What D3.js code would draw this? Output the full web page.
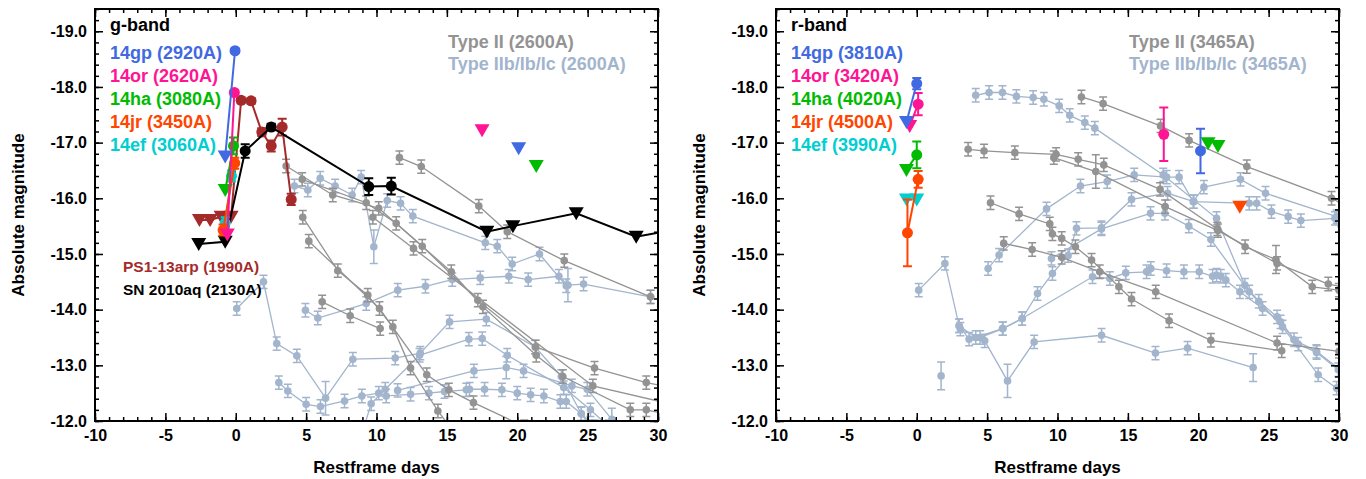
<!DOCTYPE html>
<html>
<head>
<meta charset="utf-8">
<script src="https://cdn.jsdelivr.net/npm/d3@7/dist/d3.min.js"></script>
<style>
body { margin: 0; background: #fff; }
text { font-family: "Liberation Sans", Arial, sans-serif; font-weight: bold; }
</style>
</head>
<body>
<script>
// ---------------- data ----------------
const xTicks = [-10, -5, 0, 5, 10, 15, 20, 25, 30];
const yTicks = [-19, -18, -17, -16, -15, -14, -13, -12];

// point = [restframe day, abs mag, error, isUpperLimit]
// g-band, comparison Type II (grey)
const gTypeII = [
  [[11.63,-16.73],[13.18,-16.57],[17.27,-15.86],[19.29,-15.40],[23.34,-14.88],[29.47,-14.23]],
  [[3.58,-16.58],[6.89,-16.06],[10.16,-15.82],[13.25,-15.14],[17.2,-14.17],[21.3,-13.33],[25.49,-12.95],[29.17,-12.69],[31,-12.6]],
  [[4.72,-16.34],[9.27,-15.92],[11.4,-15.55],[15.31,-14.68],[17.56,-14.05],[21.35,-13.18],[23.24,-12.8],[28.03,-12.2],[29.17,-12.2],[31,-12.1]],
  [[4.76,-15.66],[7.25,-14.7],[9.38,-14.26],[11.16,-13.69],[12.42,-12.95],[14.36,-12.18],[15.5,-11.8]],
  [[5.19,-15.23],[10.21,-14.02],[13.57,-12.83],[15.14,-12.56],[16.89,-12.33],[20.5,-11.9]],
  [[6.14,-14.14],[8.13,-13.89],[10.26,-13.66]],
  [[9.74,-15.66],[12.63,-15.1],[25.37,-12.63],[31,-12.3]]
];
// g-band, comparison Type IIb/Ib/Ic (light blue)
const gTypeIb = [
  [[4.17,-16.22],[5.12,-16.15],[6.0,-16.36],[7.06,-16.22],[8.27,-16.06],[8.91,-16.38],[9.81,-15.13,0.3],[10.76,-15.96],[11.71,-15.91],[12.58,-15.68],[17.73,-15.2],[18.58,-15.14],[19.64,-14.82],[21.58,-15.0],[23.48,-14.43]],
  [[4.95,-13.99],[5.83,-13.85],[9.27,-14.11],[11.51,-14.35],[13.48,-14.42],[15.38,-14.54],[17.37,-14.57],[19.4,-14.6],[20.78,-14.54],[22.96,-14.6],[23.6,-14.44,0.3],[24.71,-14.46],[29.47,-14.23]],
  [[0.07,-14.02],[1.97,-14.5],[2.91,-13.39],[4.34,-13.17],[6.38,-12.41,0.3],[8.32,-13.11],[11.33,-13.13],[13.11,-13.22],[15.19,-13.78],[17.8,-13.83],[21.28,-13.33],[23.13,-12.8],[24.55,-12.13],[25.2,-11.9]],
  [[3.06,-12.69],[3.7,-12.54],[5.0,-12.3],[6.02,-12.26],[7.73,-12.36],[8.96,-12.45],[10.16,-12.5],[10.69,-12.45],[12.42,-12.48],[13.72,-12.5],[14.83,-12.53],[16.38,-12.56],[16.61,-12.57],[17.68,-12.57],[18.91,-12.56],[20.0,-12.5],[20.95,-12.47],[21.89,-12.45],[23.06,-12.35],[23.48,-12.35],[24.55,-12.13],[25.5,-11.9]],
  [[9.0,-11.8],[9.62,-12.31],[10.62,-12.57],[13.06,-13.18],[16.56,-13.47],[17.51,-13.48],[19.29,-13.18],[23.3,-12.6],[25.2,-12.2],[26.5,-11.9]],
  [[11.5,-12.55],[16.92,-12.9],[19.22,-12.96,0.2],[20.45,-12.9],[23.88,-12.63],[24.98,-12.57],[26.72,-12.03,0.2]]
];
// g-band, the new events
const g14gp = [[-0.75,-16.75,0,1],[-0.05,-18.65,0.04,0]];
const g14gpLate = [[20.1,-16.9,0,1]];
const g14or = [[-0.6,-15.35,0,1],[-0.1,-17.9,0.04,0]];
const g14orLate = [[17.5,-17.22,0,1]];
const g14ha = [[-0.75,-16.15,0,1],[-0.16,-16.94,0.15,0]];
const g14haLate = [[21.35,-16.58,0,1]];
const g14jr = [[-0.9,-15.43,0.1,0],[-0.07,-16.63,0.1,0]];
const g14ef = [[-0.75,-15.56,0.1,0],[-0.3,-16.4,0.1,0]];
const ps13arp = [[-2.58,-15.61,0,1],[-1.82,-15.61,0,1],[-1.04,-15.67,0,1],[-0.33,-15.67,0,1],[0.38,-17.76,0.05,0],[1.09,-17.75,0.05,0],[1.85,-17.19,0.07,0],[2.52,-16.94,0.1,0],[3.3,-17.28,0.15,0],[3.94,-15.98,0.1,0]];
const sn2010aq = [[-2.63,-15.18,0,1],[-0.75,-15.22,0,1],[0.67,-16.85,0.12,0],[2.52,-17.28,0.06,0],[9.45,-16.21,0.15,0],[11.05,-16.22,0.15,0],[17.84,-15.40,0,1],[19.69,-15.5,0,1],[24.19,-15.73,0,1],[28.45,-15.31,0,1],[31.5,-15.45,0,1]];

// r-band, comparison Type II (grey)
const rTypeII = [
  [[11.7,-17.82],[13.24,-17.7],[17.32,-17.3],[19.35,-17.04],[23.45,-16.57],[29.47,-16.0],[31,-15.8]],
  [[3.65,-16.88],[4.78,-16.85],[6.97,-16.82],[9.9,-16.79],[11.47,-16.7],[13.29,-16.6],[17.29,-16.16],[21.35,-15.45],[23.33,-15.13],[25.52,-14.9,0.25],[28.1,-14.41],[30,-14.35]],
  [[9.74,-16.73],[12.72,-16.48,0.3],[17.65,-15.85],[21.4,-15.42],[25.6,-14.83],[29.24,-14.46],[30.5,-14.4]],
  [[5.24,-15.92],[7.27,-15.72],[9.45,-15.54],[9.64,-15.36],[10.3,-15.28],[11.27,-15.13],[12.42,-14.89],[14.36,-14.41],[15.26,-14.19],[17.93,-13.8],[20.9,-13.45],[25.93,-13.26]],
  [[6.18,-15.19],[8.2,-15.08],[10.3,-14.94],[13.0,-14.68],[16.98,-14.32],[25.6,-13.4],[30,-13.25]]
];
// r-band, comparison Type IIb/Ib/Ic (light blue)
const rTypeIb = [
  [[4.19,-17.85],[5.14,-17.9],[6.09,-17.9],[7.08,-17.83],[8.27,-17.81],[9.03,-17.78],[10.12,-17.66],[10.87,-17.49],[11.94,-17.36],[12.65,-17.26],[17.51,-16.42],[21.3,-15.64],[23.31,-14.44],[24.3,-14.15],[25.6,-13.87],[26.8,-13.46],[28.4,-13.25],[30.2,-12.9]],
  [[5.07,-14.74],[5.85,-14.98],[9.22,-15.81],[11.63,-16.22],[13.53,-16.3],[15.45,-16.42],[17.75,-16.38],[18.64,-16.38],[19.64,-15.94],[20.4,-16.2],[23.0,-16.34],[24.78,-16.09],[29.83,-15.67]],
  [[3.01,-13.71],[4.19,-13.5],[6.09,-13.66],[7.49,-13.84],[8.58,-14.29],[9.64,-14.65],[10.75,-14.97],[11.35,-15.46],[13.13,-15.47],[15.26,-15.98],[17.82,-16.09],[19.69,-15.94],[23.62,-15.91],[24.15,-15.91],[25.2,-15.76],[26.39,-15.67],[27.29,-15.6],[29.71,-15.64],[30.2,-15.3]],
  [[9.57,-14.92],[13.12,-15.45],[16.61,-15.73],[17.63,-15.73],[19.33,-15.5],[20.9,-15.26],[23.62,-14.32],[25.99,-13.69],[28.52,-12.83],[29.83,-12.59],[30.5,-12.4]],
  [[0.14,-14.35],[2.0,-14.83],[3.01,-13.71],[3.72,-13.47],[4.83,-13.44],[6.45,-12.72,0.3],[8.34,-13.42],[13.13,-13.54],[16.96,-13.22],[19.24,-13.31],[23.9,-12.96,0.25]],
  [[3.1,-13.65],[4.5,-13.5],[6.13,-13.66],[7.49,-13.84],[12.49,-14.59],[13.72,-14.56],[14.85,-14.66],[16.33,-14.68],[16.63,-14.74],[17.75,-14.7],[18.98,-14.68],[20.07,-14.68],[21.02,-14.6],[21.3,-14.62],[21.6,-14.6],[21.96,-14.53],[22.96,-14.32],[24.57,-14.02],[25.85,-13.78],[27.1,-13.38],[28.41,-13.23],[29.95,-12.92]],
  [[1.73,-12.81,0.25]]
];
// r-band, the new events
const r14gp = [[-0.73,-17.37,0,1],[0,-18.06,0.1,0]];
const r14gpLate = [[20.16,-16.85,0.4,0]];
const r14or = [[-0.5,-17.3,0,1],[0.1,-17.69,0.2,0]];
const r14orLate = [[17.55,-17.15,0.48,0]];
const r14ha = [[-0.73,-16.51,0,1],[0,-16.78,0.24,0]];
const r14haLate = [[20.7,-16.99,0,1],[21.4,-16.94,0,1]];
const r14jr = [[-0.66,-15.38,0.6,0],[0.1,-16.34,0.15,0]];
const r14jrLate = [[22.95,-15.85,0,1]];
const r14ef = [[-0.73,-15.98,0,1],[0,-15.98,0,1]];

// ---------------- colours ----------------
const cGrey = "#939393", cLight = "#a2b5cd";
const cBlue = "#4169e1", cPink = "#ff1493", cGreen = "#00bb00", cOrange = "#ff4500", cCyan = "#00ced1", cBrown = "#a52a2a";

const W = 1366, H = 479;
const svg = d3.select("body").append("svg").attr("width", W).attr("height", H);
const hyphen = f => (d => f(d).replace("\u2212", "-"));

function drawPanel(left, cfg) {
  const right = left + 563, top = 9, bottom = 421;
  const x = d3.scaleLinear().domain([-10, 30]).range([left, right]);
  const y = d3.scaleLinear().domain([-12, -19.4]).range([bottom, top]);
  const line = d3.line().x(d => x(d[0])).y(d => y(d[1]));

  const clipId = "clip" + left;
  svg.append("clipPath").attr("id", clipId)
    .append("rect").attr("x", left).attr("y", top).attr("width", right - left).attr("height", bottom - top);
  const plot = svg.append("g").attr("clip-path", `url(#${clipId})`);

  function family(list, color) {
    list.forEach(s => {
      plot.append("path").datum(s).attr("d", line)
        .attr("fill", "none").attr("stroke", color).attr("stroke-width", 1.3);
      s.forEach(d => {
        const e = d[2] !== undefined ? d[2] : 0.12;
        const cx = x(d[0]), y0 = y(d[1] - e), y1 = y(d[1] + e);
        plot.append("path")
          .attr("d", `M${cx},${y0}V${y1}M${cx-4},${y0}H${cx+4}M${cx-4},${y1}H${cx+4}`)
          .attr("stroke", color).attr("stroke-width", 1.5).attr("fill", "none");
        plot.append("circle").attr("cx", cx).attr("cy", y(d[1])).attr("r", 3.8).attr("fill", color);
      });
    });
  }

  function event(pts, color, connect) {
    if (connect && pts.length > 1) {
      plot.append("path").datum(pts).attr("d", line)
        .attr("fill", "none").attr("stroke", color).attr("stroke-width", 2);
    }
    pts.forEach(d => {
      const cx = x(d[0]), cy = y(d[1]);
      if (d[3]) {
        plot.append("path").attr("d", `M${cx-7.5},${cy-6}L${cx+7.5},${cy-6}L${cx},${cy+7}Z`).attr("fill", color);
      } else {
        if (d[2] > 0) {
          const y0 = y(d[1] - d[2]), y1 = y(d[1] + d[2]);
          plot.append("path")
            .attr("d", `M${cx},${y0}V${y1}M${cx-4.5},${y0}H${cx+4.5}M${cx-4.5},${y1}H${cx+4.5}`)
            .attr("stroke", color).attr("stroke-width", 2).attr("fill", "none");
        }
        plot.append("circle").attr("cx", cx).attr("cy", cy).attr("r", 5.5).attr("fill", color);
      }
    });
  }

  family(cfg.ib, cLight);
  family(cfg.ii, cGrey);
  cfg.events.forEach(ev => event(ev[0], ev[1], ev[2]));

  // frame + ticks (inward on all sides)
  const ax = svg.append("g");
  const xMinor = d3.range(-10, 31, 1), yMinor = d3.range(-19.4, -11.99, 0.2);
  ax.append("g").attr("transform", `translate(0,${bottom})`)
    .call(d3.axisBottom(x).tickValues(xMinor).tickSize(-4).tickFormat(""));
  ax.append("g").attr("transform", `translate(0,${bottom})`)
    .call(d3.axisBottom(x).tickValues(xTicks).tickSizeInner(-8).tickSizeOuter(0).tickPadding(9).tickFormat(hyphen(d3.format("d"))))
    .call(g => g.selectAll("text").attr("font-size", 16).attr("fill", "#000").attr("font-family", "Liberation Sans, Arial").attr("font-weight", "bold"));
  ax.append("g").attr("transform", `translate(0,${top})`)
    .call(d3.axisTop(x).tickValues(xMinor).tickSize(-4).tickFormat(""));
  ax.append("g").attr("transform", `translate(0,${top})`)
    .call(d3.axisTop(x).tickValues(xTicks).tickSize(-8).tickFormat(""));
  ax.append("g").attr("transform", `translate(${left},0)`)
    .call(d3.axisLeft(y).tickValues(yMinor).tickSize(-4).tickFormat(""));
  ax.append("g").attr("transform", `translate(${left},0)`)
    .call(d3.axisLeft(y).tickValues(yTicks).tickSizeInner(-8).tickSizeOuter(0).tickPadding(8).tickFormat(hyphen(d3.format(".1f"))))
    .call(g => g.selectAll("text").attr("font-size", 16).attr("fill", "#000").attr("font-family", "Liberation Sans, Arial").attr("font-weight", "bold"));
  ax.append("g").attr("transform", `translate(${right},0)`)
    .call(d3.axisRight(y).tickValues(yMinor).tickSize(-4).tickFormat(""));
  ax.append("g").attr("transform", `translate(${right},0)`)
    .call(d3.axisRight(y).tickValues(yTicks).tickSize(-8).tickFormat(""));
  ax.selectAll(".domain").remove();
  ax.selectAll("line").attr("stroke", "#000").attr("stroke-width", 1.5);
  svg.append("rect").attr("x", left).attr("y", top).attr("width", right - left).attr("height", bottom - top)
    .attr("fill", "none").attr("stroke", "#000").attr("stroke-width", 2);

  // axis titles
  svg.append("text").attr("x", (left + right) / 2).attr("y", 473).attr("text-anchor", "middle")
    .attr("font-size", 17).text("Restframe days");
  svg.append("text").attr("transform", `translate(${left - 71},215) rotate(-90)`).attr("text-anchor", "middle")
    .attr("font-size", 17).text("Absolute magnitude");

  // legends
  svg.append("text").attr("x", left + 15).attr("y", 31).attr("font-size", 18).attr("fill", "#000").text(cfg.band);
  cfg.labels.forEach((l, i) => {
    svg.append("text").attr("x", left + 15).attr("y", 59 + i * 23).attr("font-size", 18).attr("fill", l[1]).text(l[0]);
  });
  svg.append("text").attr("x", left + 353).attr("y", 48).attr("font-size", 18).attr("fill", cGrey).text(cfg.typeII);
  svg.append("text").attr("x", left + 353).attr("y", 70).attr("font-size", 18).attr("fill", cLight).text(cfg.typeIb);
  (cfg.extra || []).forEach((l, i) => {
    svg.append("text").attr("x", left + 28).attr("y", 272 + i * 23).attr("font-size", 15.5).attr("fill", l[1]).text(l[0]);
  });
}

drawPanel(95, {
  band: "g-band",
  ii: gTypeII, ib: gTypeIb,
  events: [
    [ps13arp, cBrown, true], [sn2010aq, "#000", true],
    [g14ef, cCyan, true], [g14jr, cOrange, true], [g14ha, cGreen, true], [g14or, cPink, true], [g14gp, cBlue, true],
    [g14gpLate, cBlue, false], [g14orLate, cPink, false], [g14haLate, cGreen, false]
  ],
  labels: [["14gp (2920A)", cBlue], ["14or (2620A)", cPink], ["14ha (3080A)", cGreen], ["14jr (3450A)", cOrange], ["14ef (3060A)", cCyan]],
  typeII: "Type II (2600A)", typeIb: "Type IIb/Ib/Ic (2600A)",
  extra: [["PS1-13arp (1990A)", cBrown], ["SN 2010aq (2130A)", "#000"]]
});

drawPanel(776, {
  band: "r-band",
  ii: rTypeII, ib: rTypeIb,
  events: [
    [r14ef, cCyan, true], [r14jr, cOrange, true], [r14ha, cGreen, true], [r14or, cPink, true], [r14gp, cBlue, true],
    [r14gpLate, cBlue, false], [r14orLate, cPink, false], [r14haLate, cGreen, false], [r14jrLate, cOrange, false]
  ],
  labels: [["14gp (3810A)", cBlue], ["14or (3420A)", cPink], ["14ha (4020A)", cGreen], ["14jr (4500A)", cOrange], ["14ef (3990A)", cCyan]],
  typeII: "Type II (3465A)", typeIb: "Type IIb/Ib/Ic (3465A)"
});
</script>
</body>
</html>
